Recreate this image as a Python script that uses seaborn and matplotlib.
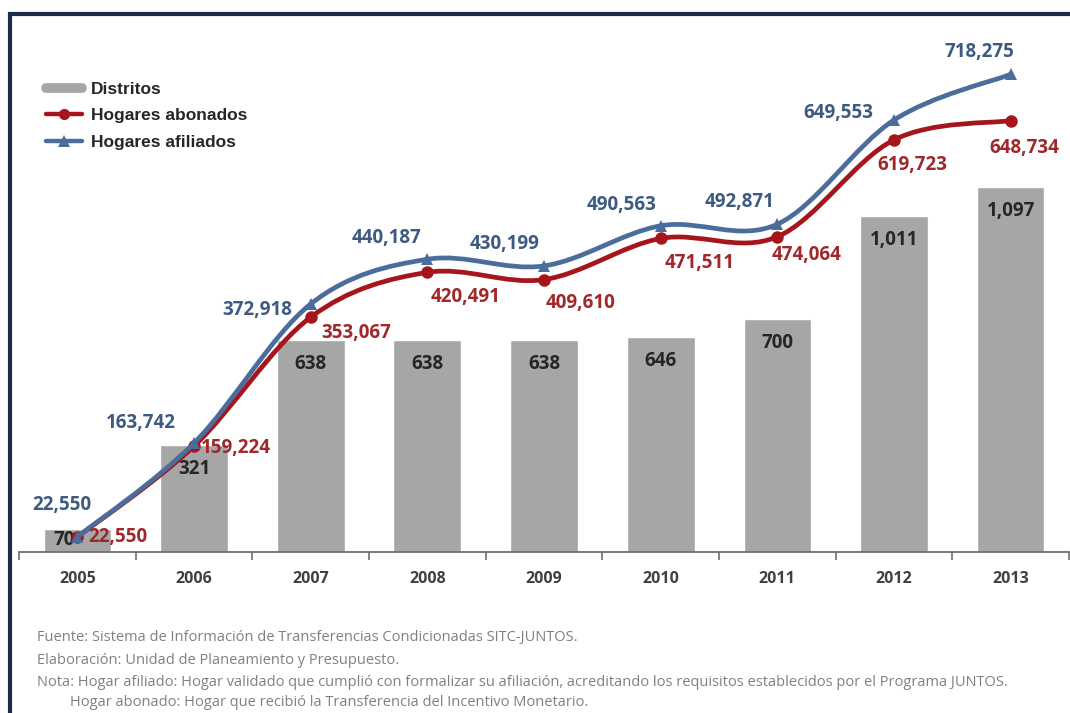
import matplotlib
matplotlib.use("Agg")
import numpy as np
import pandas as pd
import seaborn as sns
import matplotlib.pyplot as plt
from matplotlib.path import Path
from matplotlib.patches import PathPatch, Rectangle
from matplotlib.lines import Line2D

# ---- data -------------------------------------------------------------
years = ["2005", "2006", "2007", "2008", "2009", "2010", "2011", "2012", "2013"]
distritos = [70, 321, 638, 638, 638, 646, 700, 1011, 1097]
hogares_abonados = [22550, 159224, 353067, 420491, 409610, 471511, 474064, 619723, 648734]
hogares_afiliados = [22550, 163742, 372918, 440187, 430199, 490563, 492871, 649553, 718275]

footnotes = [
    "Fuente: Sistema de Información de Transferencias Condicionadas SITC-JUNTOS.",
    "Elaboración: Unidad de Planeamiento y Presupuesto.",
    "Nota: Hogar afiliado: Hogar validado que cumplió con formalizar su afiliación, "
    "acreditando los requisitos establecidos por el Programa JUNTOS.",
    "Hogar abonado: Hogar que recibió la Transferencia del Incentivo Monetario.",
]

# label offsets in pixels (dx, dy)
afiliados_offsets = [(-15, 32), (-53, 20), (-53, -6), (-41, 21), (-39, 22),
                     (-39, 21), (-38, 22), (-56, 7), (-31, 22)]
abonados_offsets = [(41, 0), (42, -2), (46, -16), (38, -25), (36, -23),
                    (39, -25), (29, -18), (18, -25), (14, -27)]

GRAY = "#a6a6a6"
RED = "#a5161c"
BLUE = "#4a6d9c"
RED_TXT = "#a0282b"
BLUE_TXT = "#3d5a80"

sns.set_theme(style="white")
plt.rcParams["font.family"] = ["Open Sans", "DejaVu Sans"]

W, H = 1070, 713
fig = plt.figure(figsize=(W / 100, H / 100), dpi=100)
fig.patch.set_facecolor("white")

ax = fig.add_axes([19 / W, 161 / H, 1050 / W, 512 / H])
df = pd.DataFrame({"Año": years, "Distritos": distritos})
sns.barplot(data=df, x="Año", y="Distritos", color=GRAY, width=0.58,
            saturation=1, ax=ax, zorder=1)
ax.set_xlim(-0.5, 8.5)
ax.set_ylim(0, 1539)
ax.set_xlabel("")
ax.set_ylabel("")
ax.set_yticks([])
for s in ("top", "left", "right"):
    ax.spines[s].set_visible(False)
ax.spines["bottom"].set_color("#6e6e6e")
ax.spines["bottom"].set_linewidth(1.3)
ax.set_xticks(np.arange(-0.5, 9, 1), minor=True)
ax.tick_params(axis="x", which="minor", bottom=True, length=6, width=1.2,
               color="#6e6e6e", direction="out")
ax.tick_params(axis="x", which="major", length=0, pad=14)
for lab in ax.get_xticklabels():
    lab.set_fontweight("bold")
    lab.set_fontsize(11.5)
    lab.set_color("#404040")

# values inside the bars
for i, v in enumerate(distritos):
    if v > 150:
        ax.annotate(f"{v:,}", (i, v), xytext=(0, -24), textcoords="offset pixels",
                    ha="center", va="center", fontsize=13.5, fontweight="bold",
                    color="#262626", zorder=2)
    else:
        ax.annotate(f"{v:,}", (i, v / 2), xytext=(-13, 0), textcoords="offset pixels",
                    ha="center", va="center", fontsize=13.5, fontweight="bold",
                    color="#262626", zorder=2)

# secondary axis for households
ax2 = ax.twinx()
x_pos = np.arange(len(years))


def smooth_path(xs, ys):
    pts = np.column_stack([xs, ys]).astype(float)
    n = len(pts)
    verts = [pts[0]]
    codes = [Path.MOVETO]
    for i in range(n - 1):
        p0 = pts[i - 1] if i > 0 else pts[i]
        p1 = pts[i]
        p2 = pts[i + 1]
        p3 = pts[i + 2] if i + 2 < n else pts[i + 1]
        verts += [p1 + (p2 - p0) / 6, p2 - (p3 - p1) / 6, p2]
        codes += [Path.CURVE4] * 3
    return Path(verts, codes)


for vals, col, mk, z in ((hogares_abonados, RED, "o", 3), (hogares_afiliados, BLUE, "^", 4)):
    ax2.add_patch(PathPatch(smooth_path(x_pos, vals), facecolor="none", edgecolor=col,
                            lw=3.4, capstyle="round", joinstyle="round",
                            transform=ax2.transData, zorder=z))
    sns.lineplot(x=x_pos, y=vals, ax=ax2, color=col, marker=mk, linestyle="",
                 markersize=9, markeredgewidth=0, legend=False, zorder=z)

ax2.set_ylim(0, 769900)
ax2.set_xlim(-0.5, 8.5)
ax2.set_yticks([])
ax2.set_ylabel("")
for s in ax2.spines.values():
    s.set_visible(False)

for i, v in enumerate(hogares_afiliados):
    ax2.annotate(f"{v:,}", (i, v), xytext=afiliados_offsets[i], textcoords="offset pixels",
                 ha="center", va="center", fontsize=13.5, fontweight="bold",
                 color=BLUE_TXT, zorder=6)
for i, v in enumerate(hogares_abonados):
    ax2.annotate(f"{v:,}", (i, v), xytext=abonados_offsets[i], textcoords="offset pixels",
                 ha="center", va="center", fontsize=13.5, fontweight="bold",
                 color=RED_TXT, zorder=6)

# legend
handles = [
    Line2D([], [], color=GRAY, lw=7),
    Line2D([], [], color=RED, lw=3.2, marker="o", markersize=8, markeredgewidth=0),
    Line2D([], [], color=BLUE, lw=3.2, marker="^", markersize=8, markeredgewidth=0),
]
fig.legend(handles, ["Distritos", "Hogares abonados", "Hogares afiliados"],
           loc="upper left", bbox_to_anchor=(46 / W, 1 - 82 / H), frameon=False,
           handlelength=2.1, handletextpad=0.5, labelspacing=0.64,
           borderpad=0, borderaxespad=0,
           prop={"family": "Liberation Sans", "weight": "bold", "size": 12.5})

# source notes
note_y = [637, 660, 682, 703]
note_x = [37, 37, 37, 70]
for txt, xx, yy in zip(footnotes, note_x, note_y):
    fig.text(xx / W, 1 - yy / H, txt, ha="left", va="center", fontsize=10.5,
             color="#808080")

# frame
fig.patches.append(Rectangle((10 / W, -0.1), 1.2, (H - 14) / H + 0.1,
                             transform=fig.transFigure, fill=False,
                             edgecolor="#1c2b4a", lw=3, figure=fig))

fig.savefig("out.png", dpi=100)
